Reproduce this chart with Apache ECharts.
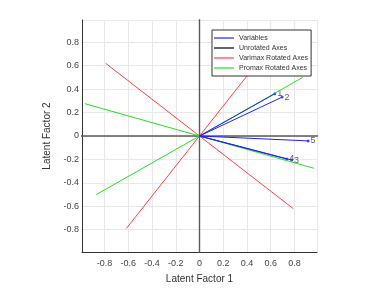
<!DOCTYPE html>
<html>
<head>
<meta charset="utf-8">
<script src="https://cdn.jsdelivr.net/npm/echarts@6/dist/echarts.min.js"></script>
<style>
  html, body { margin: 0; padding: 0; background: #fff; }
  #chart { width: 385px; height: 289px; }
</style>
</head>
<body>
<div id="chart"></div>
<script>
// variable loadings (blue vectors)
const varLabels = ['1', '2', '3', '4', '5'];
const varX = [0.634, 0.696, 0.776, 0.735, 0.915];
const varY = [0.360, 0.332, -0.205, -0.196, -0.042];

// rotated axis directions (drawn through the origin)
const varimaxX = [0.79, 0.617];
const varimaxY = [-0.62, 0.79];
const promaxX = [0.966, 0.87];
const promaxY = [-0.276, 0.50];

// unrotated axes
const unrotX = [1, 0];
const unrotY = [0, 1];

const axisMin = -0.99;
const axisMax = 0.99;

const chart = echarts.init(document.getElementById('chart'));

function throughOrigin(name, xs, ys, color, width) {
  return xs.map((x, i) => ({
    name: name,
    type: 'line',
    data: [[-x, -ys[i]], [x, ys[i]]],
    symbol: 'none',
    lineStyle: { color: color, width: width },
    itemStyle: { color: color },
    silent: true,
    animation: false
  }));
}

const series = [];
series.push(...throughOrigin('Unrotated Axes', unrotX, unrotY, '#5a5a5a', 1.4));
series.push(...throughOrigin('Varimax Rotated Axes', varimaxX, varimaxY, '#ff4040', 1));
series.push(...throughOrigin('Promax Rotated Axes', promaxX, promaxY, '#22e022', 1));

varX.forEach((x, i) => {
  series.push({
    name: 'Variables',
    type: 'line',
    data: [[0, 0], [x, varY[i]]],
    symbol: 'none',
    lineStyle: { color: '#2020ff', width: 1 },
    itemStyle: { color: '#2020ff' },
    animation: false
  });
});

series.push({
  name: 'points',
  type: 'scatter',
  data: varX.map((x, i) => ({ value: [x, varY[i]], name: varLabels[i] })),
  symbolSize: 3,
  itemStyle: { color: '#2020ff' },
  label: {
    show: true,
    position: 'right',
    distance: 1,
    formatter: p => p.name,
    color: '#333',
    fontSize: 9,
    fontFamily: 'Liberation Sans'
  },
  animation: false
});

function tickFmt(v) {
  if (Math.abs(Math.abs(v) - 0.99) < 1e-6) return '';
  return String(Math.round(v * 10) / 10);
}

const axisCommon = {
  type: 'value',
  min: axisMin,
  max: axisMax,
  minInterval: 0.2,
  maxInterval: 0.2,
  nameLocation: 'middle',
  nameTextStyle: { color: '#333', fontSize: 10, fontFamily: 'Liberation Sans' },
  axisLine: { onZero: false, lineStyle: { color: '#333', width: 1 } },
  axisTick: { show: false },
  splitLine: { show: true, lineStyle: { color: '#e8e8e8', width: 1 } },
  axisLabel: {
    color: '#444',
    fontSize: 9,
    fontFamily: 'Liberation Sans',
    formatter: tickFmt,
    showMinLabel: false,
    showMaxLabel: false
  }
};

const option = {
  backgroundColor: '#fff',
  animation: false,
  grid: { left: 82, top: 20, width: 235, height: 235 },
  legend: {
    data: [
      { name: 'Variables', itemStyle: { color: '#2020ff' } },
      { name: 'Unrotated Axes', itemStyle: { color: '#000' } },
      { name: 'Varimax Rotated Axes', itemStyle: { color: '#ff4040' } },
      { name: 'Promax Rotated Axes', itemStyle: { color: '#22e022' } }
    ],
    orient: 'vertical',
    left: 212,
    top: 30,
    padding: [4, 3, 4, 2],
    icon: 'rect',
    itemWidth: 20,
    itemHeight: 1.2,
    itemGap: 2,
    backgroundColor: '#fff',
    borderColor: '#333',
    borderWidth: 1,
    borderRadius: 0,
    z: 10,
    selectedMode: false,
    textStyle: { fontSize: 7, lineHeight: 8, color: '#333', fontFamily: 'Liberation Sans' }
  },
  xAxis: Object.assign({}, axisCommon, {
    name: 'Latent Factor 1',
    nameGap: 22,
    axisLabel: Object.assign({}, axisCommon.axisLabel, { margin: 7 })
  }),
  yAxis: Object.assign({}, axisCommon, {
    name: 'Latent Factor 2',
    nameGap: 24,
    axisLabel: Object.assign({}, axisCommon.axisLabel, { margin: 3 })
  }),
  series: series
};

chart.setOption(option);
</script>
</body>
</html>
